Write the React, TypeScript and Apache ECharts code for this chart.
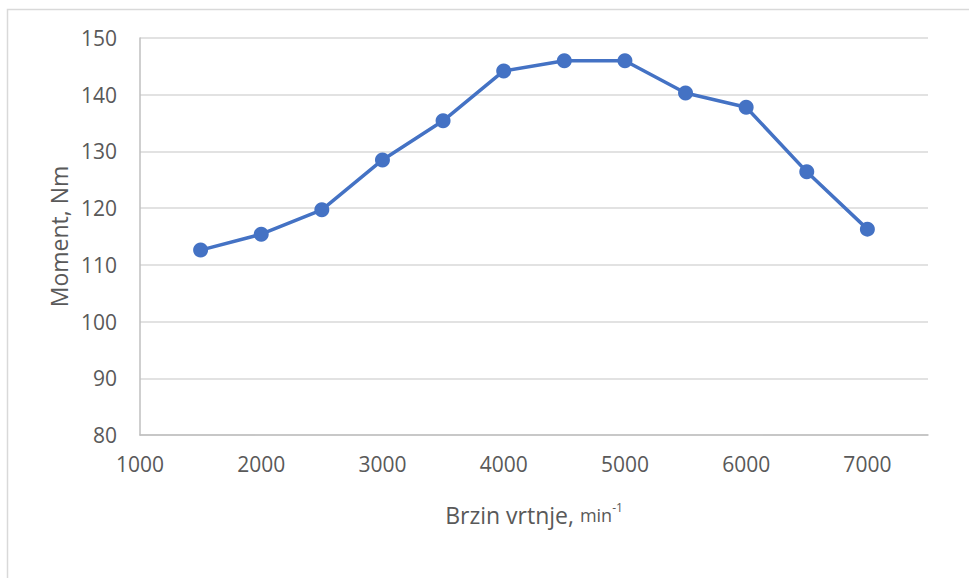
import React, { useEffect, useRef } from "react";
import * as echarts from "echarts";

const speeds = [1500, 2000, 2500, 3000, 3500, 4000, 4500, 5000, 5500, 6000, 6500, 7000];
const torque = [112.6, 115.4, 119.7, 128.5, 135.4, 144.2, 146.0, 146.0, 140.3, 137.8, 126.4, 116.3];

const xTitle = "Brzin vrtnje, ";
const xUnit = "min";
const xUnitExp = "-1";
const yTitle = "Moment, Nm";

const FONT = "Open Sans";
const TEXT = "#595959";

export default function App() {
  const ref = useRef<HTMLDivElement>(null);
  useEffect(() => {
    if (!ref.current) return;
    const chart = echarts.init(ref.current, null, { renderer: "svg" });
    chart.setOption({
      animation: false,
      backgroundColor: "#ffffff",
      textStyle: { fontFamily: FONT, color: TEXT },
      graphic: [
        {
          type: "rect",
          shape: { x: 7.5, y: 9.5, width: 1000, height: 1000 },
          style: { fill: "none", stroke: "#d9d9d9", lineWidth: 1.5 },
          silent: true,
        },
      ],
      grid: { left: 140, right: 41, top: 38, bottom: 143, containLabel: false },
      xAxis: {
        type: "value",
        min: 1000,
        max: 7500,
        interval: 1000,
        axisLine: { show: true, lineStyle: { color: "#bfbfbf", width: 1.5 } },
        axisTick: { show: false },
        splitLine: { show: false },
        axisLabel: {
          showMaxLabel: false,
          fontSize: 21,
          color: TEXT,
          fontFamily: FONT,
          margin: 18,
          formatter: (v: number) => String(v),
        },
        name: `{a|${xTitle}}{b|${xUnit}}{c|${xUnitExp}}`,
        nameLocation: "middle",
        nameGap: 66,
        nameTextStyle: {
          rich: {
            a: { fontSize: 23, color: TEXT, fontFamily: FONT, lineHeight: 28 },
            b: { fontSize: 18, color: TEXT, fontFamily: FONT, lineHeight: 28 },
            c: { fontSize: 12, color: TEXT, fontFamily: FONT, verticalAlign: "top", lineHeight: 28, padding: [0, 0, 12, 0] },
          },
        },
      },
      yAxis: {
        type: "value",
        min: 80,
        max: 150,
        interval: 10,
        axisLine: { show: true, lineStyle: { color: "#bfbfbf", width: 1.5 } },
        axisTick: { show: false },
        splitLine: { show: true, lineStyle: { color: "#d9d9d9", width: 1.5 } },
        axisLabel: { fontSize: 21, color: TEXT, fontFamily: FONT, margin: 23 },
        name: yTitle,
        nameLocation: "middle",
        nameGap: 68,
        nameTextStyle: { fontSize: 23, color: TEXT, fontFamily: FONT },
      },
      series: [
        {
          type: "line",
          data: speeds.map((s, i) => [s, torque[i]]),
          lineStyle: { color: "#4472C4", width: 3.5 },
          itemStyle: { color: "#4472C4" },
          symbol: "circle",
          symbolSize: 15,
          showSymbol: true,
        },
      ],
    });
    return () => chart.dispose();
  }, []);
  return (
    <div
      ref={ref}
      style={{ position: "fixed", left: 0, top: 0, width: 969, height: 578 }}
    />
  );
}
